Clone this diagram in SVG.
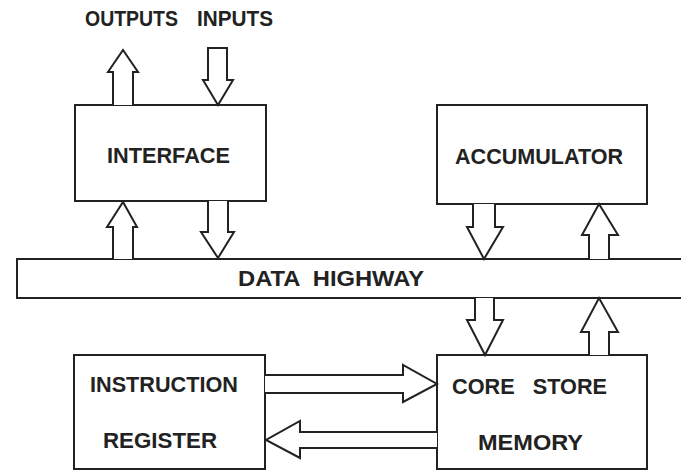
<svg xmlns="http://www.w3.org/2000/svg" width="681" height="470" viewBox="0 0 681 470">
<style>
.box{fill:#fff;stroke:#222;stroke-width:2}
.arr{fill:#fff;stroke:#222;stroke-width:2;stroke-linejoin:miter}
.lbl{font-family:"Liberation Sans",Arial,sans-serif;font-weight:bold;font-size:22px;fill:#222}
</style>
<rect width="681" height="470" fill="#fff"/>
<g id="io-labels">
<text class="lbl" x="85" y="26" textLength="93" lengthAdjust="spacingAndGlyphs">OUTPUTS</text>
<text class="lbl" x="197" y="26" textLength="76" lengthAdjust="spacingAndGlyphs">INPUTS</text>
</g>
<g id="interface">
<rect class="box" x="75" y="105" width="191" height="96"/>
<text class="lbl" x="107" y="163" textLength="123" lengthAdjust="spacingAndGlyphs">INTERFACE</text>
</g>
<g id="accumulator">
<rect class="box" x="437" y="105" width="210" height="99"/>
<text class="lbl" x="455" y="164" textLength="168" lengthAdjust="spacingAndGlyphs">ACCUMULATOR</text>
</g>
<g id="data-highway">
<rect class="box" x="17" y="259" width="680" height="39"/>
<text class="lbl" x="238" y="286" textLength="186" lengthAdjust="spacingAndGlyphs" xml:space="preserve">DATA  HIGHWAY</text>
</g>
<g id="instruction-register">
<rect class="box" x="74" y="355" width="191" height="114"/>
<text class="lbl" x="90" y="392" textLength="148" lengthAdjust="spacingAndGlyphs">INSTRUCTION</text>
<text class="lbl" x="103" y="448" textLength="114" lengthAdjust="spacingAndGlyphs">REGISTER</text>
</g>
<g id="core-store-memory">
<rect class="box" x="437" y="355" width="210" height="114"/>
<text class="lbl" x="452" y="394" textLength="155" lengthAdjust="spacingAndGlyphs" xml:space="preserve">CORE   STORE</text>
<text class="lbl" x="478" y="450" textLength="105" lengthAdjust="spacingAndGlyphs">MEMORY</text>
</g>
<g id="connectors">
<polyline class="arr" points="113,105 113,72 108,72 123,50 138,72 133,72 133,105"/>
<polygon class="arr" points="208,48 227,48 227,80 233,80 218,105 203,80 208,80"/>
<polyline class="arr" points="113,259 113,227 107,227 123,202 137,227 133,227 133,259"/>
<polyline class="arr" points="208,201 208,232 201,232 218,258 234,232 228,232 228,201"/>
<polyline class="arr" points="473,204 473,227 467,227 484,259 503,227 495,227 495,204"/>
<polyline class="arr" points="589,259 589,235 582,235 599,204 618,235 609,235 609,259"/>
<polyline class="arr" points="475,298 475,320 467,320 485,355 503,320 494,320 494,298"/>
<polyline class="arr" points="589,355 589,332 581,332 599,298 618,332 609,332 609,355"/>
<polyline class="arr" points="265,375 403,375 403,365 437,384 403,402 403,393 265,393"/>
<polyline class="arr" points="437,432 300,432 300,421 266,440 300,458 300,448 437,448"/>
</g>
</svg>
